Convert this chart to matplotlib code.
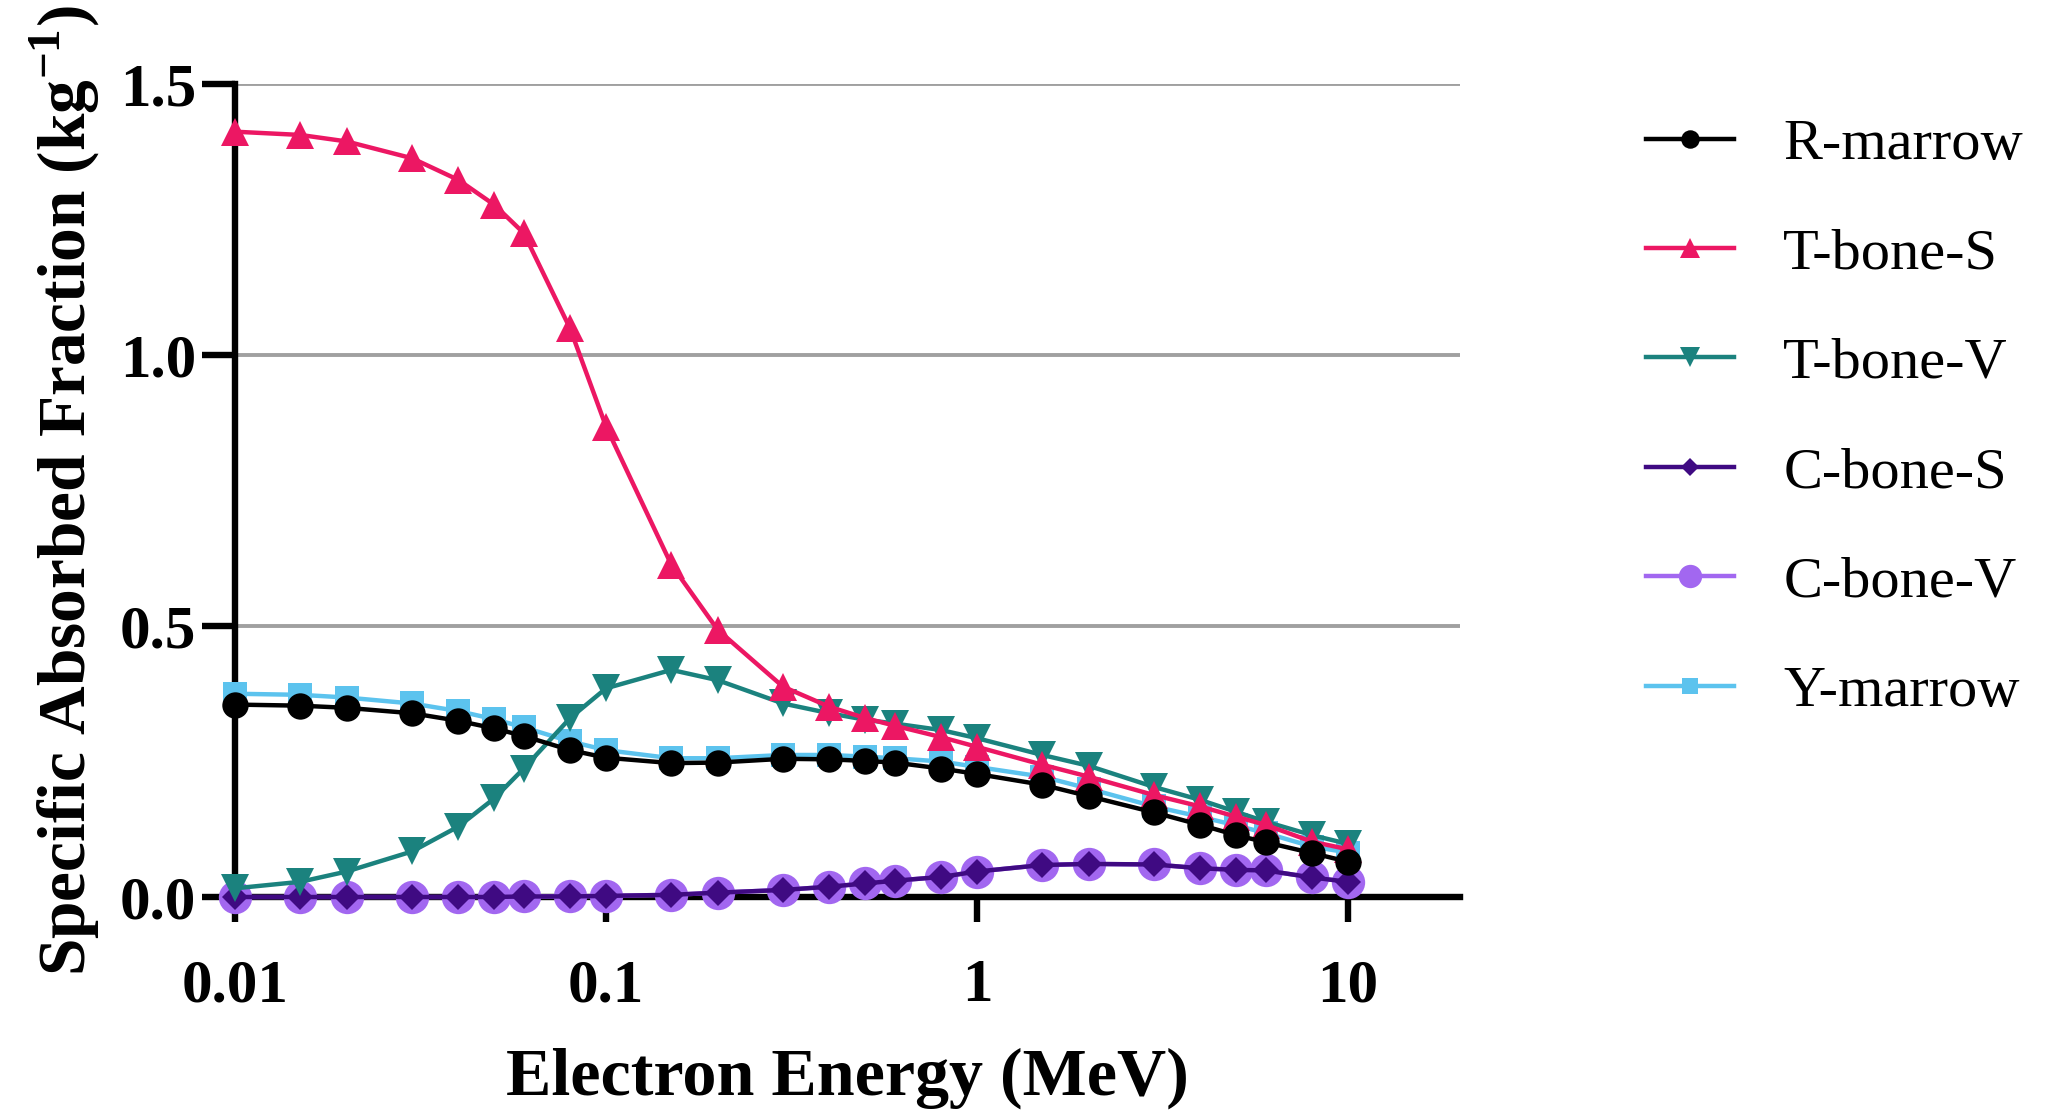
import matplotlib
matplotlib.use("Agg")
import matplotlib.pyplot as plt
from matplotlib.ticker import FixedLocator, FixedFormatter, NullLocator

plt.rcParams["font.family"] = ["Liberation Serif", "DejaVu Serif"]
plt.rcParams["mathtext.fontset"] = "custom"
plt.rcParams["mathtext.rm"] = "Liberation Serif"
plt.rcParams["mathtext.bf"] = "Liberation Serif:bold"

# ---- data ----
energy = [0.01, 0.015, 0.02, 0.03, 0.04, 0.05, 0.06, 0.08, 0.1, 0.15, 0.2,
          0.3, 0.4, 0.5, 0.6, 0.8, 1, 1.5, 2, 3, 4, 5, 6, 8, 10]

r_marrow = [0.355, 0.353, 0.349, 0.339, 0.325, 0.311, 0.297, 0.271, 0.257, 0.247, 0.248,
            0.255, 0.254, 0.251, 0.248, 0.237, 0.227, 0.207, 0.186, 0.156, 0.133, 0.114,
            0.101, 0.081, 0.065]
t_bone_s = [1.412, 1.406, 1.394, 1.363, 1.323, 1.277, 1.225, 1.049, 0.868, 0.613, 0.493,
            0.388, 0.351, 0.330, 0.316, 0.295, 0.277, 0.244, 0.222, 0.188, 0.167, 0.148,
            0.133, 0.102, 0.088]
t_bone_v = [0.016, 0.028, 0.047, 0.084, 0.130, 0.182, 0.237, 0.330, 0.385, 0.419, 0.400,
            0.357, 0.339, 0.327, 0.320, 0.308, 0.293, 0.262, 0.242, 0.203, 0.179, 0.157,
            0.139, 0.114, 0.098]
c_bone_s = [0.000, 0.000, 0.000, 0.000, 0.000, 0.000, 0.001, 0.001, 0.002, 0.004, 0.008,
            0.013, 0.019, 0.025, 0.030, 0.037, 0.047, 0.059, 0.061, 0.060, 0.053, 0.050,
            0.049, 0.036, 0.028]
c_bone_v = [0.000, 0.000, 0.000, 0.000, 0.000, 0.000, 0.001, 0.001, 0.002, 0.004, 0.008,
            0.013, 0.019, 0.025, 0.030, 0.037, 0.047, 0.059, 0.061, 0.060, 0.053, 0.050,
            0.049, 0.036, 0.028]
y_marrow = [0.375, 0.373, 0.368, 0.357, 0.343, 0.328, 0.313, 0.287, 0.271, 0.256, 0.256,
            0.262, 0.262, 0.259, 0.256, 0.250, 0.240, 0.222, 0.200, 0.167, 0.148, 0.132,
            0.118, 0.093, 0.082]

labels = ["R-marrow", "T-bone-S", "T-bone-V", "C-bone-S", "C-bone-V", "Y-marrow"]
x_ticks = [0.01, 0.1, 1, 10]
x_tick_labels = ["0.01", "0.1", "1", "10"]
y_ticks = [0.0, 0.5, 1.0, 1.5]
y_tick_labels = ["0.0", "0.5", "1.0", "1.5"]

# ---- styles ----
series = [
    (r_marrow, "#000000", "o", 19, 6),
    (t_bone_s, "#EC1763", "^", 20, 5),
    (t_bone_v, "#1B827E", "v", 20, 4),
    (c_bone_s, "#3F0A82", "D", 13.5, 3),
    (c_bone_v, "#A267F0", "o", 24, 2),
    (y_marrow, "#5CC3EE", "s", 17, 1),
]

fig = plt.figure(figsize=(20.67, 11.14), dpi=100)
ax = fig.add_axes([0.1137, 0.1948, 0.5925, 0.7298])

handles = []
for (vals, col, mk, ms, z), lab in zip(series, labels):
    h, = ax.plot(energy, vals, color=col, marker=mk, markersize=ms, markeredgewidth=0,
                 linewidth=3.2, label=lab, zorder=z + 3, clip_on=False)
    handles.append(h)

ax.set_xscale("log")
ax.set_xlim(0.01, 20)
ax.set_ylim(0, 1.5)

ax.xaxis.set_major_locator(FixedLocator(x_ticks))
ax.xaxis.set_major_formatter(FixedFormatter(x_tick_labels))
ax.xaxis.set_minor_locator(NullLocator())
ax.yaxis.set_major_locator(FixedLocator(y_ticks))
ax.yaxis.set_major_formatter(FixedFormatter(y_tick_labels))

for s in ["top", "right"]:
    ax.spines[s].set_visible(False)
for s in ["left", "bottom"]:
    ax.spines[s].set_linewidth(4.6)
    ax.spines[s].set_zorder(2.5)

ax.yaxis.grid(True, color="#A0A0A0", linewidth=2.8, zorder=0)
ax.set_axisbelow(True)

ax.tick_params(axis="x", direction="out", length=18, width=4.6, pad=26,
               labelsize=44)
ax.tick_params(axis="y", direction="out", length=24, width=4.6, pad=4,
               labelsize=44)
for t in ax.get_xticklabels() + ax.get_yticklabels():
    t.set_fontweight("bold")

ax.set_xlabel("Electron Energy (MeV)", fontsize=49, fontweight="bold", labelpad=24)
ax.set_ylabel(r"Specific Absorbed Fraction (kg$^{\mathbf{-1}}$)", fontsize=48.5,
              fontweight="bold", labelpad=12)

leg = fig.legend(handles=handles, labels=labels, loc="upper left",
                 bbox_to_anchor=(0.771, 0.941), frameon=False,
                 prop={"family": "Liberation Serif", "size": 42},
                 handlelength=1.5, handletextpad=0.85, labelspacing=0.97,
                 markerscale=0.7)

fig.savefig("out.png", dpi=100)
